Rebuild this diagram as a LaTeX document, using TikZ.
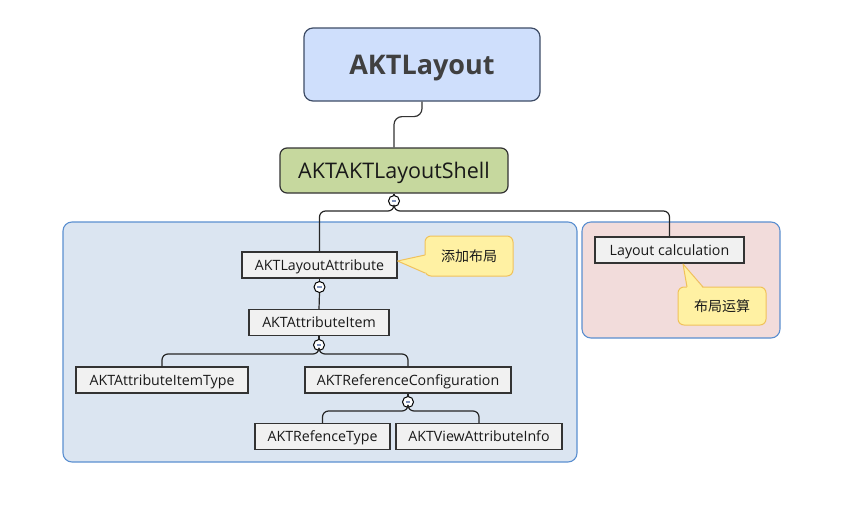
\documentclass[tikz,border=0pt]{standalone}
\usepackage{fontspec}
\setmainfont{Open Sans}
\newfontfamily\cjk{Noto Sans CJK SC}
\usetikzlibrary{calc}
\definecolor{topfill}{HTML}{CFDFFC}
\definecolor{topdraw}{HTML}{3E4C66}
\definecolor{shellfill}{HTML}{C6D89E}
\definecolor{regblue}{HTML}{DBE5F1}
\definecolor{regpink}{HTML}{F2DCDB}
\definecolor{regdraw}{HTML}{5B8FD0}
\definecolor{boxfill}{HTML}{F1F1F1}
\definecolor{calfill}{HTML}{FFF1A3}
\definecolor{caldraw}{HTML}{F1C25A}
\definecolor{minuscol}{HTML}{7C8FB8}
\tikzset{
  region/.style={draw=regdraw, line width=1.1pt, rounded corners=9pt},
  itembox/.style={draw=black!80, fill=boxfill, line width=1.2pt, minimum height=26pt,
    inner xsep=0pt, text depth=0pt, font=\fontsize{14.2}{16}\selectfont, text=black!90},
  callout/.style={draw=caldraw, fill=calfill, line width=1pt, rounded corners=6pt,
    font=\cjk\fontsize{14}{16}\selectfont, text=black!90},
  toggle/.style={circle, draw=black, fill=white, line width=1pt, minimum size=11pt, inner sep=0pt,
    path picture={\draw[minuscol, line width=1.2pt] ([xshift=-2.4pt]path picture bounding box.center) -- ([xshift=2.4pt]path picture bounding box.center);}},
  link/.style={draw=black!85, line width=1.2pt, rounded corners=6pt},
}
\begin{document}
\begin{tikzpicture}[x=1pt,y=-1pt]
\useasboundingbox (0,0) rectangle (850,530);
% regions
\draw[region, fill=regblue] (63,222) rectangle (577,462);
\draw[region, fill=regpink] (582,222) rectangle (780,338);
% top nodes
\node[draw=topdraw, fill=topfill, line width=1.2pt, rounded corners=9pt, text depth=0pt,
  minimum width=236pt, minimum height=73pt, font=\bfseries\fontsize{27}{30}\selectfont, text=black!75]
  (lay) at (422,64.5) {AKTLayout};
\node[draw=black!80, fill=shellfill, line width=1.2pt, rounded corners=7pt, text depth=0pt,
  minimum width=228pt, minimum height=45pt, font=\fontsize{21.5}{24}\selectfont, text=black!90]
  (shell) at (394,170.5) {AKTAKTLayoutShell};
\node[toggle] (c1) at (394,201) {};
% level items
\node[itembox, minimum width=155pt] (attr) at (319.5,265) {AKTLayoutAttribute};
\node[itembox, minimum width=149pt] (calc) at (669.5,250) {Layout calculation};
\node[toggle] (c2) at (319.5,287) {};
\node[itembox, minimum width=140pt] (item) at (319,322.5) {AKTAttributeItem};
\node[toggle] (c3) at (319,345) {};
\node[itembox, minimum width=172pt] (type) at (162,380) {AKTAttributeItemType};
\node[itembox, minimum width=206pt] (ref) at (408,380) {AKTReferenceConfiguration};
\node[toggle] (c4) at (408,402) {};
\node[itembox, minimum width=135pt] (reft) at (322.5,436.5) {AKTRefenceType};
\node[itembox, minimum width=166pt] (view) at (479,436.5) {AKTViewAttributeInfo};
% connectors
\draw[line width=1.2pt, draw=black!80, rounded corners=8pt] (lay.south) -- ++(0,15) -| (shell.north);
\draw[link] (shell.south) -- (c1.north);
\draw[link] (c1.south) -- ++(0,4) -| (attr.north);
\draw[link] (c1.south) -- ++(0,4) -| (calc.north);
\draw[link] (attr.south) -- (c2.north);
\draw[link] (c2.south) -- (item.north);
\draw[link] (item.south) -- (c3.north);
\draw[link] (c3.south) -- ++(0,3) -| (type.north);
\draw[link] (c3.south) -- ++(0,3) -| (ref.north);
\draw[link] (ref.south) -- (c4.north);
\draw[link] (c4.south) -- ++(0,3) -| (reft.north);
\draw[link] (c4.south) -- ++(0,3) -| (view.north);
% callouts
\node[callout, minimum width=88pt, minimum height=40pt] (n1) at (469,256) {添加布局};
\coordinate (t1) at ($(attr.east)+(0,-4)$);
\fill[calfill] (t1) -- (426.5,255) -- (426.5,273) -- cycle;
\draw[caldraw, line width=1pt, line join=round] (425,255) -- (t1) -- (425,273);
\node[callout, minimum width=88pt, minimum height=38pt] (n2) at (722,306) {布局运算};
\coordinate (t2) at (683,264);
\fill[calfill] (t2) -- (687,288.5) -- (703,288.5) -- cycle;
\draw[caldraw, line width=1pt, line join=round] (687,287) -- (t2) -- (703,287);
\end{tikzpicture}
\end{document}
